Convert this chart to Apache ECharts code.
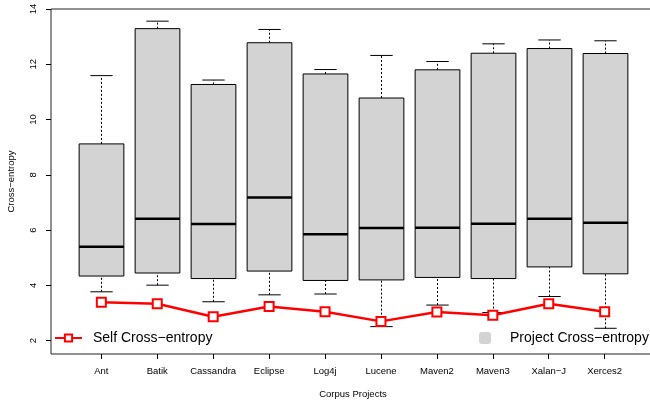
<!DOCTYPE html>
<html>
<head>
<meta charset="utf-8">
<script src="https://cdn.jsdelivr.net/npm/echarts@6/dist/echarts.min.js"></script>
<style>
  html, body { margin: 0; padding: 0; background: #fff; overflow: hidden; }
  #chart { width: 650px; height: 402px; }
</style>
</head>
<body>
<div id="chart"></div>
<script>
// Corpus projects on the x axis
const categories = ['Ant', 'Batik', 'Cassandra', 'Eclipse', 'Log4j', 'Lucene', 'Maven2', 'Maven3', 'Xalan\u2212J', 'Xerces2'];

// Project cross-entropy box statistics
const whiskerLow  = [3.77, 4.01, 3.41, 3.66, 3.69, 2.51, 3.29, 3.02, 3.60, 2.45];
const quartileLow = [4.34, 4.45, 4.25, 4.52, 4.18, 4.20, 4.29, 4.25, 4.67, 4.42];
const medians     = [5.40, 6.41, 6.22, 7.18, 5.85, 6.08, 6.09, 6.23, 6.41, 6.27];
const quartileHigh= [9.12, 13.29, 11.27, 12.78, 11.65, 10.78, 11.80, 12.40, 12.57, 12.39];
const whiskerHigh = [11.59, 13.56, 11.43, 13.26, 11.81, 12.32, 12.10, 12.74, 12.88, 12.85];

// Self cross-entropy per project
const selfEntropy = [3.39, 3.34, 2.87, 3.24, 3.05, 2.70, 3.04, 2.92, 3.34, 3.05];

// Tick labels
const yTicks = [2, 4, 6, 8, 10, 12, 14];
const xTicks = categories.map((c, i) => i + 1);

const FONT = "'Liberation Sans', Arial, Helvetica, sans-serif";
const BOX_WIDTH = 0.8;

const boxData = categories.map((c, i) => [i + 1, whiskerLow[i], quartileLow[i], medians[i], quartileHigh[i], whiskerHigh[i]]);
const selfData = selfEntropy.map((v, i) => [i + 1, v]);

function renderBox(params, api) {
  const x = api.value(0);
  const lo = api.coord([x, api.value(1)]);
  const q1 = api.coord([x, api.value(2)]);
  const md = api.coord([x, api.value(3)]);
  const q3 = api.coord([x, api.value(4)]);
  const hi = api.coord([x, api.value(5)]);
  const half = api.size([BOX_WIDTH, 0])[0] / 2;
  const cap = half / 2;
  const cx = Math.round(lo[0]) + 0.5;
  const dashed = { stroke: '#000', lineWidth: 1, lineDash: [2, 2] };
  const solid = { stroke: '#000', lineWidth: 1 };
  return {
    type: 'group',
    children: [
      { type: 'line', shape: { x1: cx, y1: lo[1], x2: cx, y2: q1[1] }, style: dashed },
      { type: 'line', shape: { x1: cx, y1: q3[1], x2: cx, y2: hi[1] }, style: dashed },
      { type: 'line', shape: { x1: cx - cap, y1: lo[1], x2: cx + cap, y2: lo[1] }, style: solid },
      { type: 'line', shape: { x1: cx - cap, y1: hi[1], x2: cx + cap, y2: hi[1] }, style: solid },
      { type: 'rect', shape: { x: cx - half, y: q3[1], width: half * 2, height: q1[1] - q3[1] },
        style: { fill: '#d3d3d3', stroke: '#000', lineWidth: 1 } },
      { type: 'line', shape: { x1: cx - half, y1: md[1], x2: cx + half, y2: md[1] },
        style: { stroke: '#000', lineWidth: 2.5 } }
    ]
  };
}

const chart = echarts.init(document.getElementById('chart'), null, { renderer: 'canvas' });
chart.setOption({
  animation: false,
  backgroundColor: '#fff',
  textStyle: { fontFamily: FONT },
  grid: {
    left: 51, top: 9, width: 604, height: 345,
    outerBoundsMode: 'none',
    containLabel: false,
    show: true, borderColor: '#222', borderWidth: 1, backgroundColor: 'transparent'
  },
  legend: [
    {
      data: ['Self Cross\u2212entropy'],
      left: 49, top: 326,
      itemWidth: 27, itemHeight: 9,
      textStyle: { fontSize: 14, color: '#000', fontFamily: FONT, padding: [0, 0, 0, 6] }
    },
    {
      data: [{ name: 'Project Cross\u2212entropy', icon: 'roundRect' }],
      left: 474, top: 326,
      itemWidth: 12, itemHeight: 12,
      textStyle: { fontSize: 14, color: '#000', fontFamily: FONT, padding: [0, 0, 0, 14] }
    }
  ],
  xAxis: {
    type: 'value',
    min: 0.1, max: 10.9,
    name: 'Corpus Projects',
    nameLocation: 'middle',
    nameGap: 35,
    nameTextStyle: { fontSize: 9.5, color: '#000', fontFamily: FONT },
    axisLine: { show: false },
    splitLine: { show: false },
    axisTick: { show: true, length: 5, customValues: xTicks, lineStyle: { color: '#000' } },
    axisLabel: {
      customValues: xTicks, margin: 12, fontSize: 9.5, color: '#000', fontFamily: FONT,
      formatter: v => categories[Math.round(v) - 1]
    }
  },
  yAxis: {
    type: 'value',
    min: 1.52, max: 14,
    name: 'Cross\u2212entropy',
    nameLocation: 'middle',
    nameGap: 35,
    nameRotate: 90,
    nameTextStyle: { fontSize: 9.5, color: '#000', fontFamily: FONT },
    axisLine: { show: false },
    splitLine: { show: false },
    axisTick: { show: true, length: 5, customValues: yTicks, lineStyle: { color: '#000' } },
    axisLabel: {
      customValues: yTicks, rotate: 90, margin: 13, fontSize: 9.5, color: '#000', fontFamily: FONT
    }
  },
  series: [
    {
      name: 'Project Cross\u2212entropy',
      type: 'custom',
      renderItem: renderBox,
      itemStyle: { color: '#d3d3d3' },
      encode: { x: 0, y: [1, 2, 3, 4, 5] },
      data: boxData,
      z: 2
    },
    {
      name: 'Self Cross\u2212entropy',
      type: 'line',
      data: selfData,
      symbol: 'rect',
      symbolSize: 9,
      lineStyle: { color: '#ff0000', width: 2.5 },
      itemStyle: { color: '#fff', borderColor: '#ff0000', borderWidth: 2 },
      z: 5
    }
  ]
});
</script>
</body>
</html>
